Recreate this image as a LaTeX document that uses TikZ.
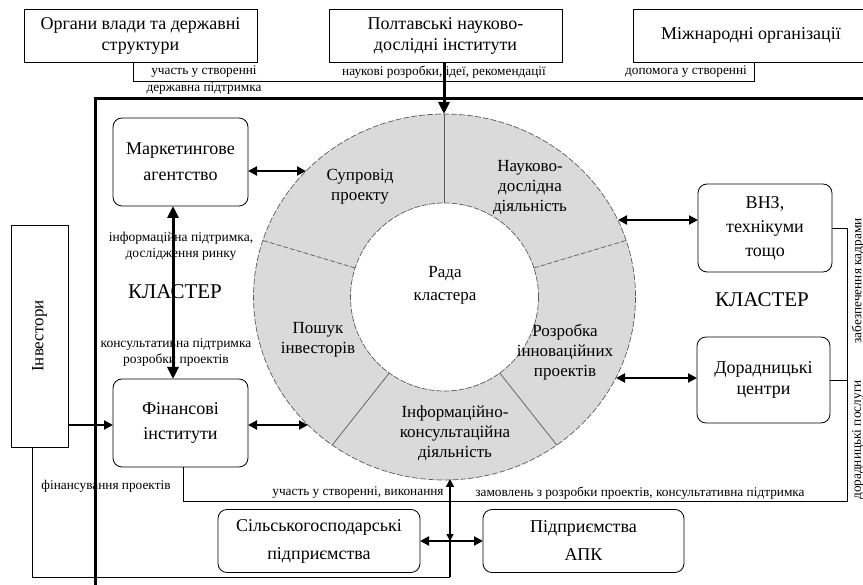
\documentclass[tikz,border=0pt]{standalone}
\usepackage{fontspec}
\setmainfont{Liberation Serif}
\usetikzlibrary{arrows.meta,calc}
\definecolor{ringgray}{RGB}{218,218,218}
\definecolor{ringedge}{RGB}{90,90,90}
\tikzset{
  box/.style={draw, line width=0.8pt, inner sep=0pt, outer sep=0pt, align=center, font=\fontsize{18}{21}\selectfont},
  rbox/.style={box, rounded corners=9pt},
  lbl/.style={inner sep=0pt, align=center, font=\fontsize{13.3}{16}\selectfont},
  lbltwo/.style={inner sep=0pt, align=center, font=\fontsize{13.5}{16}\selectfont},
  seg/.style={inner sep=0pt, align=center, font=\fontsize{17}{20}\selectfont},
  bigtxt/.style={inner sep=0pt, font=\fontsize{21}{24}\selectfont},
  conn/.style={line width=0.8pt},
  darrow/.style={line width=2pt, {Triangle[length=9pt,width=9pt]}-{Triangle[length=9pt,width=9pt]}},
  sarrow/.style={line width=2pt, -{Triangle[length=9pt,width=9pt]}},
  vline/.style={line width=1.6pt, -{Triangle[length=8pt,width=8pt]}},
  bigarrow/.style={line width=3pt, -{Triangle[length=12pt,width=11pt]}},
  bigdarrow/.style={line width=3pt, {Triangle[length=12pt,width=11pt]}-{Triangle[length=12pt,width=11pt]}},
  divsolid/.style={line width=0.7pt, ringedge},
  divdash/.style={line width=0.7pt, ringedge, dash pattern=on 5pt off 2pt}
}
\begin{document}
\begin{tikzpicture}[x=1pt,y=-1pt]
\useasboundingbox (0,0) rectangle (863,585);

% ---- ring ----
\coordinate (rc) at (444.5,297);
\fill[ringgray] (rc) ellipse [x radius=191, y radius=183];
\draw[ringedge, line width=0.7pt, dash pattern=on 6pt off 2pt] (rc) ellipse [x radius=191, y radius=183];
\fill[white] (rc) ellipse [x radius=94, y radius=94];
\draw[ringedge, line width=0.7pt, dash pattern=on 6pt off 1.5pt] (rc) ellipse [x radius=94, y radius=94];
\draw[divsolid] ({444.5+94*cos(90)},{297-94*sin(90)}) -- ({444.5+191*cos(90)},{297-183*sin(90)});
\draw[divdash] ({444.5+94*cos(162)},{297-94*sin(162)}) -- ({444.5+191*cos(162)},{297-183*sin(162)});
\draw[divdash] ({444.5+94*cos(18)},{297-94*sin(18)}) -- ({444.5+191*cos(18)},{297-183*sin(18)});
\draw[divsolid] ({444.5+94*cos(234)},{297-94*sin(234)}) -- ({444.5+191*cos(234)},{297-183*sin(234)});
\draw[divsolid] ({444.5+94*cos(306)},{297-94*sin(306)}) -- ({444.5+191*cos(306)},{297-183*sin(306)});

\node[seg] (s1) at (360,187) {Супровід\\проекту};
\node[seg] (s2) at (530,188) {Науково-\\дослідна\\діяльність};
\node[seg] (s3) at (565,352) {Розробка\\інноваційних\\проектів};
\node[seg] (s4) at (455,433) {Інформаційно-\\консультаційна\\діяльність};
\node[seg] (s5) at (318,340) {Пошук\\інвесторів};
\node[seg, font=\fontsize{17}{23}\selectfont] (rada) at (445,285) {Рада\\кластера};

% ---- frame ----
\draw[line width=3pt] (95,590) -- (95,99) -- (868,99);

% ---- top boxes ----
\node[box, minimum width=233pt, minimum height=53pt] (org) at (140.5,35.5) {Органи влади та державні\\структури};
\node[box, minimum width=233pt, minimum height=53pt] (polt) at (445.5,35.5) {Полтавські науково-\\дослідні інститути};
\node[box, minimum width=236pt, minimum height=53pt] (intl) at (751,35.5) {Міжнародні організації};

\draw[conn] ([xshift=-7.5pt]org.south) -- ++(0,19) -| ([xshift=3pt]intl.south);
\coordinate (rtop) at (444,114);
\draw[bigarrow] (polt.south -| rtop) -- (rtop);

\node[lbl] (l1) at (204,72) {участь у створенні};
\node[lbl] (l2) at (204,89) {державна підтримка};
\node[lbl] (l3) at (444,72) {наукові розробки, ідеї, рекомендації};
\node[lbl] (l4) at (686,72) {допомога у створенні};

% ---- left side ----
\node[rbox, minimum width=135pt, minimum height=88pt, font=\fontsize{18}{26}\selectfont] (mark) at (180.5,162) {Маркетингове\\агентство};
\node[rbox, minimum width=135pt, minimum height=88pt, font=\fontsize{18}{25}\selectfont] (fin) at (180.5,423) {Фінансові\\інститути};
\node[box, minimum width=57pt, minimum height=222pt] (inv) at (39.5,336) {};
\node[rotate=90, inner sep=0pt, font=\fontsize{17}{20}\selectfont] (invt) at (inv.center) {Інвестори};

\coordinate (rl1) at (306,171);
\coordinate (rl2) at (308,425);
\draw[darrow] (mark.east |- rl1) -- (rl1);
\draw[darrow] (fin.east |- rl2) -- (rl2);
\draw[bigdarrow] ([xshift=-7.5pt]mark.south) -- ([xshift=-7.5pt]fin.north);
\draw[sarrow] (inv.east |- rl2) -- (fin.west |- rl2);

\node[lbltwo] (l5) at (181,246) {інформаційна підтримка,\\дослідження ринку};
\node[lbltwo] (l6) at (176,352) {консультативна підтримка\\розробки проектів};
\node[bigtxt] (k1) at (175,292) {КЛАСТЕР};
\node[lbl] (l7) at (106,486) {фінансування проектів};

% ---- right side ----
\node[rbox, minimum width=134pt, minimum height=88pt, font=\fontsize{18}{24}\selectfont] (vnz) at (765,228) {ВНЗ,\\технікуми\\тощо};
\node[rbox, minimum width=133pt, minimum height=86pt, font=\fontsize{18}{21}\selectfont] (dor) at (763.5,380) {Дорадницькі\\центри};
\node[bigtxt] (k2) at (762,300) {КЛАСТЕР};
\coordinate (rr1) at (618,220);
\coordinate (rr2) at (616,378);
\draw[darrow] (rr1) -- (vnz.west |- rr1);
\draw[darrow] (rr2) -- (dor.west |- rr2);

\coordinate (rb) at (847,501);
\draw[conn] ([xshift=2.5pt]fin.south) |- (rb) -- (rb |- vnz.east) -- (vnz.east);
\draw[conn] (dor.east) -- (dor.east -| rb);
\node[lbl, rotate=90] (l8) at (858,281) {забезпечення кадрами};
\node[lbl, rotate=90] (l9) at (858,440) {дорадницькі послуги};
\node[lbl] (l10) at (358,493) {участь у створенні, виконання};
\node[lbl] (l11) at (640,493) {замовлень з розробки проектів, консультативна підтримка};

% ---- bottom ----
\node[rbox, minimum width=202pt, minimum height=63pt, font=\fontsize{18}{28}\selectfont] (silg) at (319,541) {Сільськогосподарські\\підприємства};
\node[rbox, minimum width=201pt, minimum height=63pt, font=\fontsize{18}{28}\selectfont] (apk) at (583.5,541) {Підприємства\\АПК};

\coordinate (bl) at (32,577);
\coordinate (bv) at (450,577);
\coordinate (rbot) at (450,479);
\draw[conn] (inv.south -| bl) -- (bl) -- (bv);
\draw[vline] (bv) -- (rbot);
\draw[darrow] (silg.east) -- (apk.west);
\draw[line width=1.6pt, -{Triangle[length=7pt,width=7pt]}] (450,530) -- (silg.east -| bv);
\end{tikzpicture}
\end{document}
